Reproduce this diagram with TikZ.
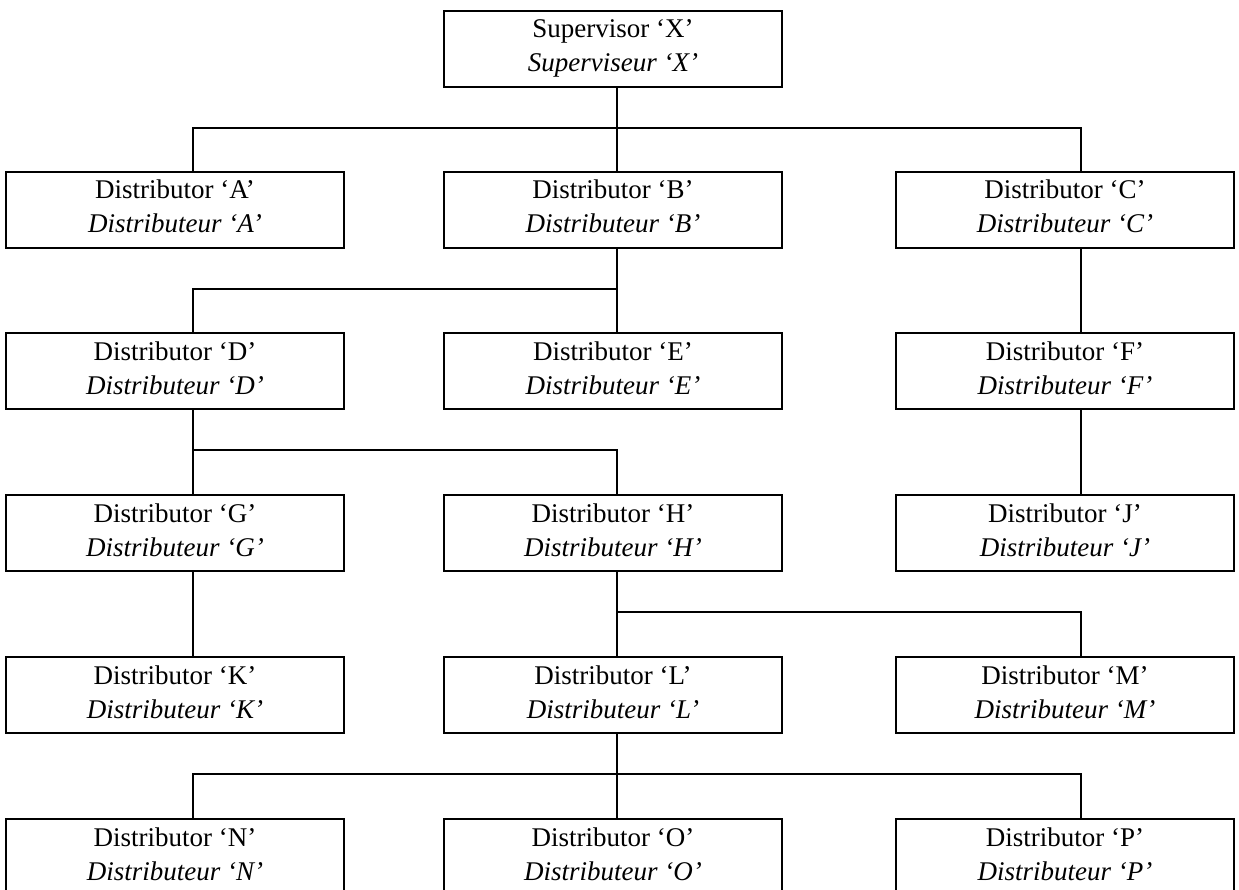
\documentclass[tikz,border=0pt]{standalone}
\usepackage{fontspec}
\setmainfont{Liberation Serif}
\begin{document}
\begin{tikzpicture}[x=1pt,y=-1pt,
  orgbox/.style={draw, line width=1.3pt, minimum width=338pt, minimum height=76pt, inner sep=0pt},
  upline/.style={anchor=base, inner sep=0pt, font=\fontsize{27}{30}\selectfont},
  lowline/.style={anchor=base, inner sep=0pt, font=\fontsize{27}{30}\selectfont\itshape},
  conn/.style={line width=1.2pt}]
\useasboundingbox (0,0) rectangle (1239,890);
\newcommand\orgnode[5]{%
  \node[orgbox] (#1) at (#2,#3) {};
  \node[upline] (#1t) at ([yshift=11pt]#1.center) {#4};
  \node[lowline] (#1i) at ([yshift=-23pt]#1.center) {#5};}
\newcommand\distnode[4]{\orgnode{#1}{#2}{#3}{Distributor ‘#4’}{Distributeur ‘#4’}}
% top
\orgnode{X}{613}{49}{Supervisor ‘X’}{Superviseur ‘X’}
% rows
\distnode{A}{175}{210}{A}
\distnode{B}{613}{210}{B}
\distnode{C}{1065}{210}{C}
\distnode{D}{175}{371}{D}
\distnode{E}{613}{371}{E}
\distnode{F}{1065}{371}{F}
\distnode{G}{175}{533}{G}
\distnode{H}{613}{533}{H}
\distnode{J}{1065}{533}{J}
\distnode{K}{175}{695}{K}
\distnode{L}{613}{695}{L}
\distnode{M}{1065}{695}{M}
\distnode{N}{175}{857}{N}
\distnode{O}{613}{857}{O}
\distnode{P}{1065}{857}{P}
% connector columns and bars
\coordinate (lx) at (193,0);
\coordinate (mx) at (617,0);
\coordinate (rx) at (1081,0);
\coordinate (b1) at (0,128);
\coordinate (b2) at (0,289);
\coordinate (b3) at (0,450);
\coordinate (b4) at (0,612);
\coordinate (b5) at (0,774);
\draw[conn] (X.south -| mx) -- (B.north -| mx);
\draw[conn] (A.north -| lx) -- (b1 -| lx) -- (b1 -| rx) -- (C.north -| rx);
\draw[conn] (B.south -| mx) -- (E.north -| mx);
\draw[conn] (D.north -| lx) |- (b2 -| mx);
\draw[conn] (C.south -| rx) -- (F.north -| rx);
\draw[conn] (D.south -| lx) -- (G.north -| lx);
\draw[conn] (b3 -| lx) -| (H.north -| mx);
\draw[conn] (F.south -| rx) -- (J.north -| rx);
\draw[conn] (G.south -| lx) -- (K.north -| lx);
\draw[conn] (H.south -| mx) -- (L.north -| mx);
\draw[conn] (b4 -| mx) -| (M.north -| rx);
\draw[conn] (L.south -| mx) -- (O.north -| mx);
\draw[conn] (N.north -| lx) |- (b5 -| rx) -- (P.north -| rx);
\end{tikzpicture}
\end{document}
